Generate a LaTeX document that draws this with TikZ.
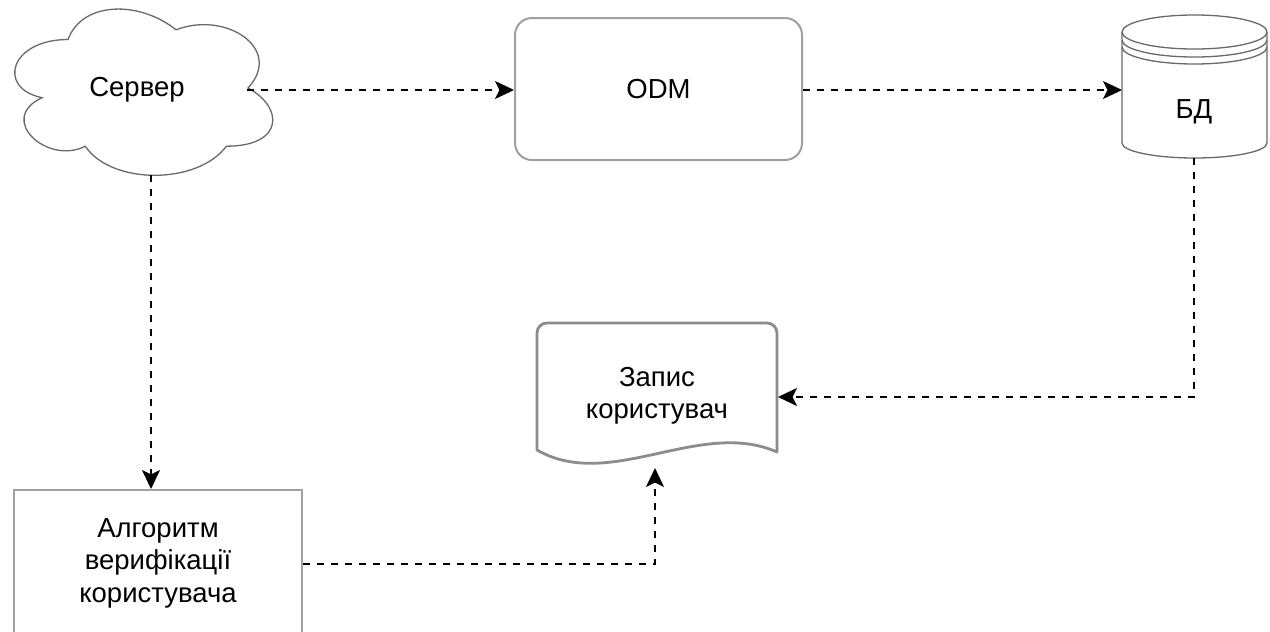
\documentclass[tikz,border=0pt]{standalone}
\usepackage{fontspec}
\setmainfont{Liberation Sans}
\usetikzlibrary{arrows.meta}

\definecolor{boxgray}{RGB}{160,160,160}
\definecolor{docgray}{RGB}{140,140,140}
\definecolor{thingray}{RGB}{105,105,105}

\tikzset{
  label text/.style={font=\fontsize{27.5}{32.5}\selectfont, align=center, text=black},
  flow/.style={draw=black, line width=2pt, dash pattern=on 7pt off 7pt,
    -{Stealth[length=19pt,width=18pt,inset=4.5pt]}},
  plainbox/.style={draw=boxgray, line width=2pt, fill=white, rectangle, inner sep=0pt},
  thinshape/.style={draw=thingray, line width=1.3pt, fill=white},
  docshape/.style={draw=docgray, line width=2.8pt, fill=white, line join=round},
}

\begin{document}
\begin{tikzpicture}[x=1pt, y=-1pt]
\useasboundingbox (0,0) rectangle (1270,632);
\clip (0,0) rectangle (1270,632);
\fill[white] (0,0) rectangle (1270,632);

% server cloud
\draw[thinshape] (68,39.5) .. controls (10.4,39.5) and (-4,88) .. (42.08,97.7)
  .. controls (-4,119.04) and (47.84,165.6) .. (85.28,146.2)
  .. controls (111.2,185) and (197.6,185) .. (226.4,146.2)
  .. controls (284,146.2) and (284,107.4) .. (248,88)
  .. controls (284,49.2) and (226.4,10.4) .. (176,29.8)
  .. controls (140,0.7) and (82.4,0.7) .. (68,39.5) -- cycle;
\node[label text] (server) at (137,90) {Сервер};
\coordinate (serverR) at (247,90);
\coordinate (serverB) at (151,175);

% ODM block
\node[plainbox, rounded corners=17pt, minimum width=287pt, minimum height=142pt,
  label text] (odm) at (658.5,89) {ODM};

% database cylinder
\draw[thinshape] (1122,32) arc[start angle=180, end angle=360, x radius=72.5, y radius=17]
  -- (1267,143) arc[start angle=0, end angle=180, x radius=72.5, y radius=15] -- cycle;
\draw[thinshape, fill=none] (1122,32) arc[start angle=180, end angle=0, x radius=72.5, y radius=17];
\draw[thinshape, fill=none] (1122,40) arc[start angle=180, end angle=0, x radius=72.5, y radius=17];
\draw[thinshape, fill=none] (1122,47) arc[start angle=180, end angle=0, x radius=72.5, y radius=17];
\node[label text] (db) at (1194,112) {БД};
\coordinate (dbL) at (1122,90);
\coordinate (dbB) at (1194,158);

% user record document
\draw[docshape] (537,450) -- (537,333) arc[start angle=180, end angle=270, radius=10]
  -- (767,323) arc[start angle=270, end angle=360, radius=10]
  -- (777,452) .. controls (700,418) and (610,492) .. (537,450) -- cycle;
\node[label text] (record) at (657,396) {Запис\\користувач};
\coordinate (recordR) at (778,397);
\coordinate (recordB) at (655,468);

% verification algorithm block
\node[plainbox, minimum width=288pt, minimum height=146pt, label text]
  (algo) at (158,563) {Алгоритм\\верифікації\\користувача};

% connectors
\draw[flow] (serverR) -- (odm.west |- serverR);
\draw[flow] (odm.east |- dbL) -- (dbL);
\draw[flow] (serverB) -- (algo.north -| serverB);
\draw[flow] (dbB) |- (recordR);
\draw[flow] (algo.east |- 0,564) -| (recordB);
\end{tikzpicture}
\end{document}
